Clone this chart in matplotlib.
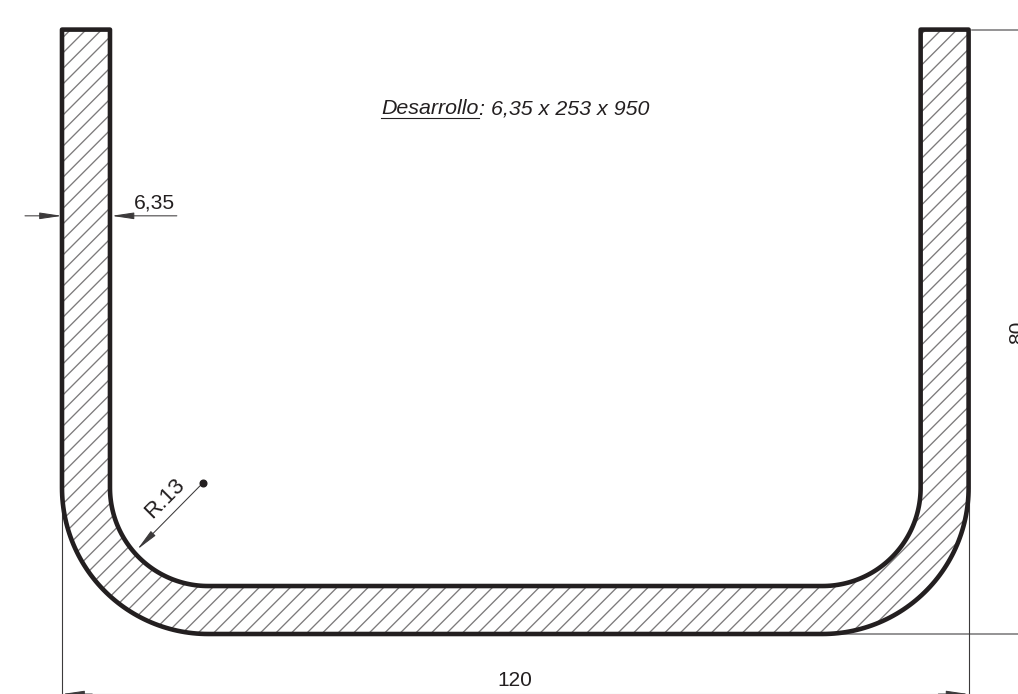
import numpy as np
import matplotlib
matplotlib.use('Agg')
import matplotlib.pyplot as plt
from matplotlib.patches import Polygon

# section dimensions in mm, as printed on the drawing
width = 120
height = 80
thick = 6.35
r_in = 13
dim_labels = ['120', '80', '6,35', 'R.13']
title_under = 'Desarrollo'
title_rest = ': 6,35 x 253 x 950'

mm_px = 7.555
dark = '#231f20'
thin = '#3c3a3b'

plt.rcParams['font.family'] = ['Liberation Sans', 'DejaVu Sans']

fig = plt.figure(figsize=(10.18, 6.94), dpi=100)
ax = fig.add_axes([0, 0, 1, 1])
ax.set_xlim(-62 / mm_px, (1018 - 62) / mm_px)
ax.set_ylim(-60 / mm_px, 634 / mm_px)
ax.axis('off')


def arc(cx, cy, r, a0, a1):
    t = np.radians(np.linspace(a0, a1, 60))
    return np.column_stack([cx + r * np.cos(t), cy + r * np.sin(t)])


# profile outline
r_out = r_in + thick
outer = np.vstack([[[0, height]],
                   arc(r_out, r_out, r_out, 180, 270),
                   arc(width - r_out, r_out, r_out, 270, 360),
                   [[width, height]]])
inner = np.vstack([[[width - thick, height]],
                   arc(width - r_out, r_out, r_in, 360, 270),
                   arc(r_out, r_out, r_in, 270, 180),
                   [[thick, height]]])
profile = np.vstack([outer, inner])

shape = Polygon(profile, closed=True, fc='white', ec='none', zorder=1)
ax.add_patch(shape)

# hatching at 45 degrees, clipped to the profile
step = 15.55 / mm_px
for k in range(-40, 66):
    xs = np.array([-5, width + 5])
    ln, = ax.plot(xs, xs - 46.7 + k * step, color='#7c7a7b', lw=0.95, zorder=2)
    ln.set_clip_path(shape)

ax.add_patch(Polygon(profile, closed=True, fc='none', ec=dark, lw=3.3,
                     joinstyle='round', zorder=3))

# extension lines
ax.plot([width + 0.4, width + 8], [height, height], color='#777577', lw=1.1, zorder=0)
ax.plot([width - r_out + 2, width + 8], [0, 0], color='#777577', lw=1.1, zorder=0)
ax.plot([0, 0], [r_out, -8], color=thin, lw=0.8, zorder=0)
ax.plot([width, width], [r_out, -8], color=thin, lw=0.8, zorder=0)


def arrow(tip, tail):
    ax.annotate('', xy=tip, xytext=tail,
                arrowprops=dict(arrowstyle='-|>,head_length=1.35,head_width=0.2',
                                color=thin, lw=0.75, shrinkA=0, shrinkB=0,
                                mutation_scale=10), zorder=4)


# overall width
dim_y = -7.95
ax.plot([0, width], [dim_y, dim_y], color='#bdbdbd', lw=0.8, zorder=0)
arrow((0, dim_y), (4, dim_y))
arrow((width, dim_y), (width - 4, dim_y))
ax.text(width / 2, -6.1, dim_labels[0], fontsize=15, color=dark, ha='center', va='center')

# overall height, cut by the edge of the sheet
ax.text(width + 6.5, height / 2 - 0.1, dim_labels[1], fontsize=15, color=dark,
        rotation=90, ha='center', va='center')

# wall thickness
t_y = 55.35
arrow((0, t_y), (-4.9, t_y))
arrow((thick + 0.2, t_y), (15.2, t_y))
ax.text(9.45, t_y + 0.45, dim_labels[2], fontsize=15.2, color=dark, ha='left', va='bottom')

# bend radius
cen = np.array([r_out, r_out])
dot = cen + np.array([-0.7, 0.65])
ang = np.radians(221)
tip = cen + (r_in - 0.55) * np.array([np.cos(ang), np.sin(ang)])
arrow(tuple(tip), tuple(dot))
ax.plot(*dot, 'o', ms=4.8, color=dark, zorder=4)
ax.text(13.6, 17.9, dim_labels[3], fontsize=16, color=dark, rotation=45,
        rotation_mode='anchor', ha='center', va='center')

# development note, first word underlined
tx = 42.25
ty = 68.8
t1 = ax.text(tx, ty, title_under, fontsize=15.4, style='italic', color=dark, va='baseline')
fig.canvas.draw()
bb = t1.get_window_extent().transformed(ax.transData.inverted())
ax.text(bb.x1, ty, title_rest, fontsize=15.4, style='italic', color=dark, va='baseline')
ax.plot([tx, bb.x1], [ty - 0.5, ty - 0.5], color=dark, lw=0.8)

fig.savefig('out.png', dpi=100)
